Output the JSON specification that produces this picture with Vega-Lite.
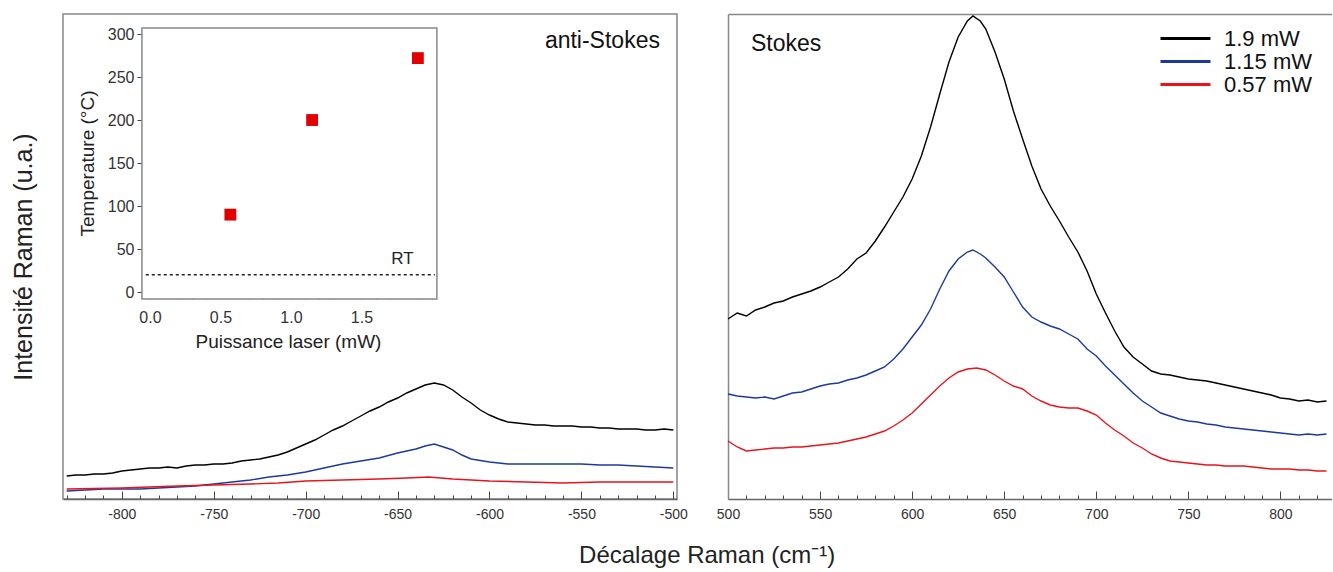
{
  "$schema": "https://vega.github.io/schema/vega-lite/v6.json",
  "padding": {"left": 10, "top": 13, "right": 0, "bottom": 5},
  "config": {
    "font": "Liberation Sans",
    "view": {"stroke": "#888", "strokeWidth": 1.5},
    "axis": {"grid": false, "titleFontWeight": "normal", "labelColor": "#333", "titleColor": "#222", "domainColor": "#666", "tickColor": "#444", "labelOverlap": false}
  },
  "title": {"text": "Décalage Raman (cm⁻¹)", "orient": "bottom", "anchor": "middle", "fontSize": 24, "fontWeight": "normal", "color": "#222", "offset": 18, "dx": 36},
  "datasets": {
    "as": [
      {"x":-830,"I":23,"p":"1.9 mW"},{"x":-825,"I":24,"p":"1.9 mW"},{"x":-820,"I":24,"p":"1.9 mW"},{"x":-815,"I":25,"p":"1.9 mW"},{"x":-810,"I":25,"p":"1.9 mW"},{"x":-805,"I":26,"p":"1.9 mW"},{"x":-800,"I":28,"p":"1.9 mW"},{"x":-795,"I":29,"p":"1.9 mW"},{"x":-790,"I":30,"p":"1.9 mW"},{"x":-785,"I":31,"p":"1.9 mW"},{"x":-780,"I":31,"p":"1.9 mW"},{"x":-775,"I":32,"p":"1.9 mW"},{"x":-770,"I":31,"p":"1.9 mW"},{"x":-765,"I":33,"p":"1.9 mW"},{"x":-760,"I":34,"p":"1.9 mW"},{"x":-755,"I":34,"p":"1.9 mW"},{"x":-750,"I":35,"p":"1.9 mW"},{"x":-745,"I":35,"p":"1.9 mW"},{"x":-740,"I":36,"p":"1.9 mW"},{"x":-735,"I":38,"p":"1.9 mW"},{"x":-730,"I":39,"p":"1.9 mW"},{"x":-725,"I":40,"p":"1.9 mW"},{"x":-720,"I":42,"p":"1.9 mW"},{"x":-715,"I":44,"p":"1.9 mW"},{"x":-710,"I":47,"p":"1.9 mW"},{"x":-705,"I":51,"p":"1.9 mW"},{"x":-700,"I":55,"p":"1.9 mW"},{"x":-695,"I":59,"p":"1.9 mW"},{"x":-690,"I":64,"p":"1.9 mW"},{"x":-685,"I":69,"p":"1.9 mW"},{"x":-680,"I":73,"p":"1.9 mW"},{"x":-675,"I":78,"p":"1.9 mW"},{"x":-670,"I":83,"p":"1.9 mW"},{"x":-665,"I":88,"p":"1.9 mW"},{"x":-660,"I":92,"p":"1.9 mW"},{"x":-655,"I":97,"p":"1.9 mW"},{"x":-650,"I":101,"p":"1.9 mW"},{"x":-645,"I":106,"p":"1.9 mW"},{"x":-640,"I":110,"p":"1.9 mW"},{"x":-635,"I":114,"p":"1.9 mW"},{"x":-630,"I":116,"p":"1.9 mW"},{"x":-625,"I":114,"p":"1.9 mW"},{"x":-620,"I":109,"p":"1.9 mW"},{"x":-615,"I":102,"p":"1.9 mW"},{"x":-610,"I":96,"p":"1.9 mW"},{"x":-605,"I":89,"p":"1.9 mW"},{"x":-600,"I":84,"p":"1.9 mW"},{"x":-595,"I":80,"p":"1.9 mW"},{"x":-590,"I":77,"p":"1.9 mW"},{"x":-585,"I":76,"p":"1.9 mW"},{"x":-580,"I":75,"p":"1.9 mW"},{"x":-575,"I":74,"p":"1.9 mW"},{"x":-570,"I":74,"p":"1.9 mW"},{"x":-565,"I":73,"p":"1.9 mW"},{"x":-560,"I":73,"p":"1.9 mW"},{"x":-555,"I":73,"p":"1.9 mW"},{"x":-550,"I":72,"p":"1.9 mW"},{"x":-545,"I":72,"p":"1.9 mW"},{"x":-540,"I":71,"p":"1.9 mW"},{"x":-535,"I":71,"p":"1.9 mW"},{"x":-530,"I":70,"p":"1.9 mW"},{"x":-525,"I":70,"p":"1.9 mW"},{"x":-520,"I":70,"p":"1.9 mW"},{"x":-515,"I":69,"p":"1.9 mW"},{"x":-510,"I":69,"p":"1.9 mW"},{"x":-505,"I":70,"p":"1.9 mW"},{"x":-500,"I":69,"p":"1.9 mW"},
      {"x":-830,"I":8,"p":"1.15 mW"},{"x":-820,"I":9,"p":"1.15 mW"},{"x":-810,"I":10,"p":"1.15 mW"},{"x":-800,"I":10,"p":"1.15 mW"},{"x":-790,"I":10,"p":"1.15 mW"},{"x":-780,"I":11,"p":"1.15 mW"},{"x":-770,"I":12,"p":"1.15 mW"},{"x":-760,"I":13,"p":"1.15 mW"},{"x":-750,"I":15,"p":"1.15 mW"},{"x":-740,"I":17,"p":"1.15 mW"},{"x":-730,"I":19,"p":"1.15 mW"},{"x":-720,"I":22,"p":"1.15 mW"},{"x":-710,"I":24,"p":"1.15 mW"},{"x":-700,"I":27,"p":"1.15 mW"},{"x":-690,"I":31,"p":"1.15 mW"},{"x":-680,"I":35,"p":"1.15 mW"},{"x":-670,"I":38,"p":"1.15 mW"},{"x":-660,"I":41,"p":"1.15 mW"},{"x":-650,"I":46,"p":"1.15 mW"},{"x":-640,"I":50,"p":"1.15 mW"},{"x":-635,"I":53,"p":"1.15 mW"},{"x":-630,"I":55,"p":"1.15 mW"},{"x":-625,"I":52,"p":"1.15 mW"},{"x":-620,"I":49,"p":"1.15 mW"},{"x":-615,"I":44,"p":"1.15 mW"},{"x":-610,"I":40,"p":"1.15 mW"},{"x":-600,"I":37,"p":"1.15 mW"},{"x":-590,"I":35,"p":"1.15 mW"},{"x":-580,"I":35,"p":"1.15 mW"},{"x":-570,"I":35,"p":"1.15 mW"},{"x":-560,"I":35,"p":"1.15 mW"},{"x":-550,"I":35,"p":"1.15 mW"},{"x":-540,"I":34,"p":"1.15 mW"},{"x":-530,"I":34,"p":"1.15 mW"},{"x":-520,"I":33,"p":"1.15 mW"},{"x":-510,"I":32,"p":"1.15 mW"},{"x":-500,"I":31,"p":"1.15 mW"},
      {"x":-830,"I":10,"p":"0.57 mW"},{"x":-800,"I":11,"p":"0.57 mW"},{"x":-770,"I":13,"p":"0.57 mW"},{"x":-750,"I":14,"p":"0.57 mW"},{"x":-730,"I":15,"p":"0.57 mW"},{"x":-715,"I":16,"p":"0.57 mW"},{"x":-700,"I":18,"p":"0.57 mW"},{"x":-680,"I":19,"p":"0.57 mW"},{"x":-660,"I":20,"p":"0.57 mW"},{"x":-645,"I":21,"p":"0.57 mW"},{"x":-633,"I":22,"p":"0.57 mW"},{"x":-620,"I":20,"p":"0.57 mW"},{"x":-600,"I":18,"p":"0.57 mW"},{"x":-580,"I":17,"p":"0.57 mW"},{"x":-560,"I":16,"p":"0.57 mW"},{"x":-540,"I":17,"p":"0.57 mW"},{"x":-520,"I":17,"p":"0.57 mW"},{"x":-500,"I":17,"p":"0.57 mW"}
    ],
    "st": [
      {"x":500,"I":180,"p":"1.9 mW"},{"x":505,"I":186,"p":"1.9 mW"},{"x":510,"I":183,"p":"1.9 mW"},{"x":515,"I":189,"p":"1.9 mW"},{"x":520,"I":192,"p":"1.9 mW"},{"x":525,"I":196,"p":"1.9 mW"},{"x":530,"I":198,"p":"1.9 mW"},{"x":535,"I":202,"p":"1.9 mW"},{"x":540,"I":205,"p":"1.9 mW"},{"x":545,"I":208,"p":"1.9 mW"},{"x":550,"I":212,"p":"1.9 mW"},{"x":555,"I":217,"p":"1.9 mW"},{"x":560,"I":222,"p":"1.9 mW"},{"x":565,"I":230,"p":"1.9 mW"},{"x":570,"I":240,"p":"1.9 mW"},{"x":575,"I":246,"p":"1.9 mW"},{"x":580,"I":258,"p":"1.9 mW"},{"x":585,"I":272,"p":"1.9 mW"},{"x":590,"I":287,"p":"1.9 mW"},{"x":595,"I":302,"p":"1.9 mW"},{"x":600,"I":320,"p":"1.9 mW"},{"x":605,"I":343,"p":"1.9 mW"},{"x":610,"I":372,"p":"1.9 mW"},{"x":615,"I":405,"p":"1.9 mW"},{"x":620,"I":437,"p":"1.9 mW"},{"x":625,"I":462,"p":"1.9 mW"},{"x":630,"I":478,"p":"1.9 mW"},{"x":633,"I":483,"p":"1.9 mW"},{"x":637,"I":478,"p":"1.9 mW"},{"x":640,"I":470,"p":"1.9 mW"},{"x":645,"I":447,"p":"1.9 mW"},{"x":650,"I":420,"p":"1.9 mW"},{"x":655,"I":388,"p":"1.9 mW"},{"x":660,"I":360,"p":"1.9 mW"},{"x":665,"I":333,"p":"1.9 mW"},{"x":670,"I":310,"p":"1.9 mW"},{"x":675,"I":293,"p":"1.9 mW"},{"x":680,"I":278,"p":"1.9 mW"},{"x":685,"I":262,"p":"1.9 mW"},{"x":690,"I":247,"p":"1.9 mW"},{"x":695,"I":228,"p":"1.9 mW"},{"x":700,"I":205,"p":"1.9 mW"},{"x":705,"I":186,"p":"1.9 mW"},{"x":710,"I":168,"p":"1.9 mW"},{"x":715,"I":152,"p":"1.9 mW"},{"x":720,"I":142,"p":"1.9 mW"},{"x":725,"I":135,"p":"1.9 mW"},{"x":730,"I":128,"p":"1.9 mW"},{"x":735,"I":125,"p":"1.9 mW"},{"x":740,"I":124,"p":"1.9 mW"},{"x":745,"I":122,"p":"1.9 mW"},{"x":750,"I":120,"p":"1.9 mW"},{"x":755,"I":119,"p":"1.9 mW"},{"x":760,"I":118,"p":"1.9 mW"},{"x":765,"I":116,"p":"1.9 mW"},{"x":770,"I":114,"p":"1.9 mW"},{"x":775,"I":112,"p":"1.9 mW"},{"x":780,"I":110,"p":"1.9 mW"},{"x":785,"I":108,"p":"1.9 mW"},{"x":790,"I":106,"p":"1.9 mW"},{"x":795,"I":104,"p":"1.9 mW"},{"x":800,"I":101,"p":"1.9 mW"},{"x":805,"I":100,"p":"1.9 mW"},{"x":810,"I":98,"p":"1.9 mW"},{"x":815,"I":99,"p":"1.9 mW"},{"x":820,"I":97,"p":"1.9 mW"},{"x":825,"I":98,"p":"1.9 mW"},
      {"x":500,"I":105,"p":"1.15 mW"},{"x":505,"I":103,"p":"1.15 mW"},{"x":510,"I":102,"p":"1.15 mW"},{"x":515,"I":101,"p":"1.15 mW"},{"x":520,"I":102,"p":"1.15 mW"},{"x":525,"I":100,"p":"1.15 mW"},{"x":530,"I":103,"p":"1.15 mW"},{"x":535,"I":106,"p":"1.15 mW"},{"x":540,"I":107,"p":"1.15 mW"},{"x":545,"I":110,"p":"1.15 mW"},{"x":550,"I":113,"p":"1.15 mW"},{"x":555,"I":115,"p":"1.15 mW"},{"x":560,"I":116,"p":"1.15 mW"},{"x":565,"I":119,"p":"1.15 mW"},{"x":570,"I":121,"p":"1.15 mW"},{"x":575,"I":124,"p":"1.15 mW"},{"x":580,"I":128,"p":"1.15 mW"},{"x":585,"I":132,"p":"1.15 mW"},{"x":590,"I":140,"p":"1.15 mW"},{"x":595,"I":150,"p":"1.15 mW"},{"x":600,"I":162,"p":"1.15 mW"},{"x":605,"I":174,"p":"1.15 mW"},{"x":610,"I":190,"p":"1.15 mW"},{"x":615,"I":210,"p":"1.15 mW"},{"x":620,"I":228,"p":"1.15 mW"},{"x":625,"I":240,"p":"1.15 mW"},{"x":630,"I":247,"p":"1.15 mW"},{"x":633,"I":249,"p":"1.15 mW"},{"x":637,"I":245,"p":"1.15 mW"},{"x":640,"I":241,"p":"1.15 mW"},{"x":645,"I":232,"p":"1.15 mW"},{"x":650,"I":222,"p":"1.15 mW"},{"x":655,"I":207,"p":"1.15 mW"},{"x":660,"I":192,"p":"1.15 mW"},{"x":665,"I":182,"p":"1.15 mW"},{"x":670,"I":177,"p":"1.15 mW"},{"x":675,"I":173,"p":"1.15 mW"},{"x":680,"I":170,"p":"1.15 mW"},{"x":685,"I":165,"p":"1.15 mW"},{"x":690,"I":160,"p":"1.15 mW"},{"x":695,"I":150,"p":"1.15 mW"},{"x":700,"I":143,"p":"1.15 mW"},{"x":705,"I":133,"p":"1.15 mW"},{"x":710,"I":124,"p":"1.15 mW"},{"x":715,"I":115,"p":"1.15 mW"},{"x":720,"I":106,"p":"1.15 mW"},{"x":725,"I":98,"p":"1.15 mW"},{"x":730,"I":92,"p":"1.15 mW"},{"x":735,"I":86,"p":"1.15 mW"},{"x":740,"I":83,"p":"1.15 mW"},{"x":745,"I":80,"p":"1.15 mW"},{"x":750,"I":78,"p":"1.15 mW"},{"x":755,"I":77,"p":"1.15 mW"},{"x":760,"I":75,"p":"1.15 mW"},{"x":765,"I":74,"p":"1.15 mW"},{"x":770,"I":72,"p":"1.15 mW"},{"x":775,"I":71,"p":"1.15 mW"},{"x":780,"I":70,"p":"1.15 mW"},{"x":785,"I":69,"p":"1.15 mW"},{"x":790,"I":68,"p":"1.15 mW"},{"x":795,"I":67,"p":"1.15 mW"},{"x":800,"I":66,"p":"1.15 mW"},{"x":805,"I":65,"p":"1.15 mW"},{"x":810,"I":64,"p":"1.15 mW"},{"x":815,"I":65,"p":"1.15 mW"},{"x":820,"I":64,"p":"1.15 mW"},{"x":825,"I":65,"p":"1.15 mW"},
      {"x":500,"I":58,"p":"0.57 mW"},{"x":505,"I":52,"p":"0.57 mW"},{"x":510,"I":48,"p":"0.57 mW"},{"x":515,"I":49,"p":"0.57 mW"},{"x":520,"I":50,"p":"0.57 mW"},{"x":525,"I":51,"p":"0.57 mW"},{"x":530,"I":51,"p":"0.57 mW"},{"x":535,"I":52,"p":"0.57 mW"},{"x":540,"I":52,"p":"0.57 mW"},{"x":545,"I":53,"p":"0.57 mW"},{"x":550,"I":54,"p":"0.57 mW"},{"x":555,"I":55,"p":"0.57 mW"},{"x":560,"I":56,"p":"0.57 mW"},{"x":565,"I":58,"p":"0.57 mW"},{"x":570,"I":60,"p":"0.57 mW"},{"x":575,"I":62,"p":"0.57 mW"},{"x":580,"I":65,"p":"0.57 mW"},{"x":585,"I":68,"p":"0.57 mW"},{"x":590,"I":73,"p":"0.57 mW"},{"x":595,"I":79,"p":"0.57 mW"},{"x":600,"I":86,"p":"0.57 mW"},{"x":605,"I":95,"p":"0.57 mW"},{"x":610,"I":104,"p":"0.57 mW"},{"x":615,"I":113,"p":"0.57 mW"},{"x":620,"I":121,"p":"0.57 mW"},{"x":625,"I":127,"p":"0.57 mW"},{"x":630,"I":130,"p":"0.57 mW"},{"x":635,"I":131,"p":"0.57 mW"},{"x":640,"I":129,"p":"0.57 mW"},{"x":645,"I":124,"p":"0.57 mW"},{"x":650,"I":118,"p":"0.57 mW"},{"x":655,"I":113,"p":"0.57 mW"},{"x":660,"I":110,"p":"0.57 mW"},{"x":665,"I":103,"p":"0.57 mW"},{"x":670,"I":98,"p":"0.57 mW"},{"x":675,"I":94,"p":"0.57 mW"},{"x":680,"I":92,"p":"0.57 mW"},{"x":685,"I":91,"p":"0.57 mW"},{"x":690,"I":91,"p":"0.57 mW"},{"x":695,"I":88,"p":"0.57 mW"},{"x":700,"I":84,"p":"0.57 mW"},{"x":705,"I":76,"p":"0.57 mW"},{"x":710,"I":69,"p":"0.57 mW"},{"x":715,"I":63,"p":"0.57 mW"},{"x":720,"I":56,"p":"0.57 mW"},{"x":725,"I":51,"p":"0.57 mW"},{"x":730,"I":45,"p":"0.57 mW"},{"x":735,"I":41,"p":"0.57 mW"},{"x":740,"I":38,"p":"0.57 mW"},{"x":745,"I":37,"p":"0.57 mW"},{"x":750,"I":36,"p":"0.57 mW"},{"x":755,"I":35,"p":"0.57 mW"},{"x":760,"I":34,"p":"0.57 mW"},{"x":765,"I":34,"p":"0.57 mW"},{"x":770,"I":33,"p":"0.57 mW"},{"x":775,"I":33,"p":"0.57 mW"},{"x":780,"I":33,"p":"0.57 mW"},{"x":785,"I":32,"p":"0.57 mW"},{"x":790,"I":31,"p":"0.57 mW"},{"x":795,"I":30,"p":"0.57 mW"},{"x":800,"I":30,"p":"0.57 mW"},{"x":805,"I":30,"p":"0.57 mW"},{"x":810,"I":29,"p":"0.57 mW"},{"x":815,"I":29,"p":"0.57 mW"},{"x":820,"I":28,"p":"0.57 mW"},{"x":825,"I":28,"p":"0.57 mW"}
    ],
    "temp": [
      {"P":0.57,"T":90},{"P":1.15,"T":200},{"P":1.9,"T":272}
    ]
  },
  "hconcat": [
    {
      "width": 614,
      "height": 485,
      "layer": [
        {
          "data": {"name": "as"},
          "mark": {"type": "line", "strokeWidth": 1.4},
          "encoding": {
            "x": {"field": "x", "type": "quantitative", "scale": {"domain": [-832, -498], "nice": false, "zero": false},
              "axis": {"orient": "bottom", "title": null, "values": [-830,-820,-810,-800,-790,-780,-770,-760,-750,-740,-730,-720,-710,-700,-690,-680,-670,-660,-650,-640,-630,-620,-610,-600,-590,-580,-570,-560,-550,-540,-530,-520,-510,-500],
                "labelExpr": "datum.value % 50 === 0 ? '-' + abs(datum.value) : ''",
                "tickSize": {"condition": {"test": "datum.value % 50 === 0", "value": -8}, "value": -4},
                "labelPadding": 16, "labelFontSize": 14, "labelOverlap": false, "domainColor": "#666", "domainWidth": 1.5, "labelFlush": false}},
            "y": {"field": "I", "type": "quantitative", "scale": {"domain": [0, 485], "nice": false},
              "axis": {"orient": "left", "title": "Intensité Raman (u.a.)", "labels": false, "ticks": false, "domain": false, "titleFontSize": 25, "titlePadding": 27}},
            "color": {"field": "p", "type": "nominal", "scale": {"domain": ["1.9 mW", "1.15 mW", "0.57 mW"], "range": ["#000000", "#1c3a9c", "#e8141c"]}, "legend": null}
          }
        },
        {
          "layer": [
            {
              "data": {"values": [{}]},
              "mark": {"type": "rect", "fill": "white", "stroke": "#888", "strokeWidth": 1.5},
              "encoding": {
                "x": {"datum": -0.057, "type": "quantitative", "scale": {"domain": [-0.617, 3.738], "nice": false, "zero": false},
                  "axis": {"orient": "bottom", "offset": -200, "title": "Puissance laser (mW)", "titleFontSize": 19, "titlePadding": 4, "titleX": 225, "domain": false,
                    "values": [0,0.1,0.2,0.3,0.4,0.5,0.6,0.7,0.8,0.9,1,1.1,1.2,1.3,1.4,1.5,1.6,1.7,1.8,1.9,2],
                    "labelExpr": "abs(datum.value*2 - round(datum.value*2)) < 0.001 && datum.value < 1.9 ? format(datum.value, '.1f') : ''",
                    "tickSize": {"condition": {"test": "abs(datum.value*2 - round(datum.value*2)) < 0.001", "value": -6}, "value": -3},
                    "labelPadding": 16, "labelFontSize": 16, "labelOverlap": false}},
                "x2": {"datum": 2.035},
                "y": {"datum": -8.1, "type": "quantitative", "scale": {"domain": [-240.7, 323.3], "nice": false, "zero": false},
                  "axis": {"orient": "left", "offset": -79, "title": "Temperature (°C)", "titleFontSize": 19, "titlePadding": 10, "titleY": 149, "domain": false,
                    "values": [0, 50, 100, 150, 200, 250, 300], "tickSize": 5, "labelFontSize": 16, "labelPadding": 3, "labelOverlap": false}},
                "y2": {"datum": 307}
              }
            },
            {
              "data": {"values": [{}]},
              "mark": {"type": "rule", "strokeDash": [3, 3], "strokeWidth": 1.5, "color": "#222"},
              "encoding": {
                "x": {"datum": -0.03, "type": "quantitative", "scale": {"domain": [-0.617, 3.738], "nice": false, "zero": false},
                  "axis": {"orient": "bottom", "offset": -200, "title": "Puissance laser (mW)", "titleFontSize": 19, "titlePadding": 4, "titleX": 225, "domain": false,
                    "values": [0,0.1,0.2,0.3,0.4,0.5,0.6,0.7,0.8,0.9,1,1.1,1.2,1.3,1.4,1.5,1.6,1.7,1.8,1.9,2],
                    "labelExpr": "abs(datum.value*2 - round(datum.value*2)) < 0.001 && datum.value < 1.9 ? format(datum.value, '.1f') : ''",
                    "tickSize": {"condition": {"test": "abs(datum.value*2 - round(datum.value*2)) < 0.001", "value": -6}, "value": -3},
                    "labelPadding": 16, "labelFontSize": 16, "labelOverlap": false}},
                "x2": {"datum": 2.02},
                "y": {"datum": 20, "type": "quantitative", "scale": {"domain": [-240.7, 323.3], "nice": false, "zero": false},
                  "axis": {"orient": "left", "offset": -79, "title": "Temperature (°C)", "titleFontSize": 19, "titlePadding": 10, "titleY": 149, "domain": false,
                    "values": [0, 50, 100, 150, 200, 250, 300], "tickSize": 5, "labelFontSize": 16, "labelPadding": 3, "labelOverlap": false}}
              }
            },
            {
              "data": {"values": [{"t": "RT", "P": 1.79, "T": 38}]},
              "mark": {"type": "text", "baseline": "middle", "align": "center", "fontSize": 17, "color": "#222"},
              "encoding": {
                "text": {"field": "t"},
                "x": {"field": "P", "type": "quantitative", "scale": {"domain": [-0.617, 3.738], "nice": false, "zero": false},
                  "axis": {"orient": "bottom", "offset": -200, "title": "Puissance laser (mW)", "titleFontSize": 19, "titlePadding": 4, "titleX": 225, "domain": false,
                    "values": [0,0.1,0.2,0.3,0.4,0.5,0.6,0.7,0.8,0.9,1,1.1,1.2,1.3,1.4,1.5,1.6,1.7,1.8,1.9,2],
                    "labelExpr": "abs(datum.value*2 - round(datum.value*2)) < 0.001 && datum.value < 1.9 ? format(datum.value, '.1f') : ''",
                    "tickSize": {"condition": {"test": "abs(datum.value*2 - round(datum.value*2)) < 0.001", "value": -6}, "value": -3},
                    "labelPadding": 16, "labelFontSize": 16, "labelOverlap": false}},
                "y": {"field": "T", "type": "quantitative", "scale": {"domain": [-240.7, 323.3], "nice": false, "zero": false},
                  "axis": {"orient": "left", "offset": -79, "title": "Temperature (°C)", "titleFontSize": 19, "titlePadding": 10, "titleY": 149, "domain": false,
                    "values": [0, 50, 100, 150, 200, 250, 300], "tickSize": 5, "labelFontSize": 16, "labelPadding": 3, "labelOverlap": false}}
              }
            },
            {
              "data": {"values": [{"t": "anti-Stokes", "P": 3.617, "T": 292}]},
              "mark": {"type": "text", "baseline": "middle", "align": "right", "fontSize": 23, "color": "#111"},
              "encoding": {
                "text": {"field": "t"},
                "x": {"field": "P", "type": "quantitative", "scale": {"domain": [-0.617, 3.738], "nice": false, "zero": false},
                  "axis": {"orient": "bottom", "offset": -200, "title": "Puissance laser (mW)", "titleFontSize": 19, "titlePadding": 4, "titleX": 225, "domain": false,
                    "values": [0,0.1,0.2,0.3,0.4,0.5,0.6,0.7,0.8,0.9,1,1.1,1.2,1.3,1.4,1.5,1.6,1.7,1.8,1.9,2],
                    "labelExpr": "abs(datum.value*2 - round(datum.value*2)) < 0.001 && datum.value < 1.9 ? format(datum.value, '.1f') : ''",
                    "tickSize": {"condition": {"test": "abs(datum.value*2 - round(datum.value*2)) < 0.001", "value": -6}, "value": -3},
                    "labelPadding": 16, "labelFontSize": 16, "labelOverlap": false}},
                "y": {"field": "T", "type": "quantitative", "scale": {"domain": [-240.7, 323.3], "nice": false, "zero": false},
                  "axis": {"orient": "left", "offset": -79, "title": "Temperature (°C)", "titleFontSize": 19, "titlePadding": 10, "titleY": 149, "domain": false,
                    "values": [0, 50, 100, 150, 200, 250, 300], "tickSize": 5, "labelFontSize": 16, "labelPadding": 3, "labelOverlap": false}}
              }
            },
            {
              "data": {"name": "temp"},
              "mark": {"type": "point", "shape": "square", "filled": true, "size": 140, "color": "#e00000", "opacity": 1},
              "encoding": {
                "x": {"field": "P", "type": "quantitative", "scale": {"domain": [-0.617, 3.738], "nice": false, "zero": false},
                  "axis": {"orient": "bottom", "offset": -200, "title": "Puissance laser (mW)", "titleFontSize": 19, "titlePadding": 4, "titleX": 225, "domain": false,
                    "values": [0,0.1,0.2,0.3,0.4,0.5,0.6,0.7,0.8,0.9,1,1.1,1.2,1.3,1.4,1.5,1.6,1.7,1.8,1.9,2],
                    "labelExpr": "abs(datum.value*2 - round(datum.value*2)) < 0.001 && datum.value < 1.9 ? format(datum.value, '.1f') : ''",
                    "tickSize": {"condition": {"test": "abs(datum.value*2 - round(datum.value*2)) < 0.001", "value": -6}, "value": -3},
                    "labelPadding": 16, "labelFontSize": 16, "labelOverlap": false}},
                "y": {"field": "T", "type": "quantitative", "scale": {"domain": [-240.7, 323.3], "nice": false, "zero": false},
                  "axis": {"orient": "left", "offset": -79, "title": "Temperature (°C)", "titleFontSize": 19, "titlePadding": 10, "titleY": 149, "domain": false,
                    "values": [0, 50, 100, 150, 200, 250, 300], "tickSize": 5, "labelFontSize": 16, "labelPadding": 3, "labelOverlap": false}}
              }
            }
          ]
        }
      ],
      "resolve": {"scale": {"x": "independent", "y": "independent"}, "axis": {"x": "independent", "y": "independent"}}
    },
    {
      "width": 604,
      "height": 485,
      "view": {"stroke": null},
      "layer": [
        {
          "data": {"name": "st"},
          "mark": {"type": "line", "strokeWidth": 1.4},
          "encoding": {
            "x": {"field": "x", "type": "quantitative", "scale": {"domain": [500, 828], "nice": false, "zero": false},
              "axis": {"orient": "bottom", "title": null, "values": [500,510,520,530,540,550,560,570,580,590,600,610,620,630,640,650,660,670,680,690,700,710,720,730,740,750,760,770,780,790,800,810,820],
                "labelExpr": "datum.value % 50 === 0 ? '' + datum.value : ''",
                "tickSize": {"condition": {"test": "datum.value % 50 === 0", "value": -8}, "value": -4},
                "labelPadding": 16, "labelFontSize": 14, "labelOverlap": false, "domainColor": "#666", "domainWidth": 1.5, "labelFlush": false}},
            "y": {"field": "I", "type": "quantitative", "scale": {"domain": [0, 485], "nice": false},
              "axis": {"orient": "left", "title": null, "labels": false, "ticks": false, "domain": true, "domainColor": "#888", "domainWidth": 1.5}},
            "color": {"field": "p", "type": "nominal", "scale": {"domain": ["1.9 mW", "1.15 mW", "0.57 mW"], "range": ["#000000", "#1c3a9c", "#e8141c"]},
              "legend": {"title": null, "orient": "none", "legendX": 461, "legendY": 13, "symbolType": "M-4,0H1", "symbolSize": 400, "symbolStrokeWidth": 3, "symbolFillColor": "transparent", "labelFontSize": 22, "labelColor": "#111", "rowPadding": -1, "labelOffset": 12}}
          }
        },
        {
          "data": {"values": [{}]},
          "mark": {"type": "text", "text": "Stokes", "align": "left", "baseline": "middle", "fontSize": 23, "color": "#111"},
          "encoding": {
            "x": {"datum": 512.5, "type": "quantitative", "axis": {"orient": "top", "title": null, "labels": false, "ticks": false, "domain": true, "domainColor": "#888", "domainWidth": 1.5}},
            "y": {"datum": 455, "type": "quantitative"}
          }
        }
      ],
      "resolve": {"axis": {"x": "independent"}}
    }
  ],
  "spacing": 27,
  "resolve": {"scale": {"color": "independent"}, "legend": {"color": "independent"}}
}
